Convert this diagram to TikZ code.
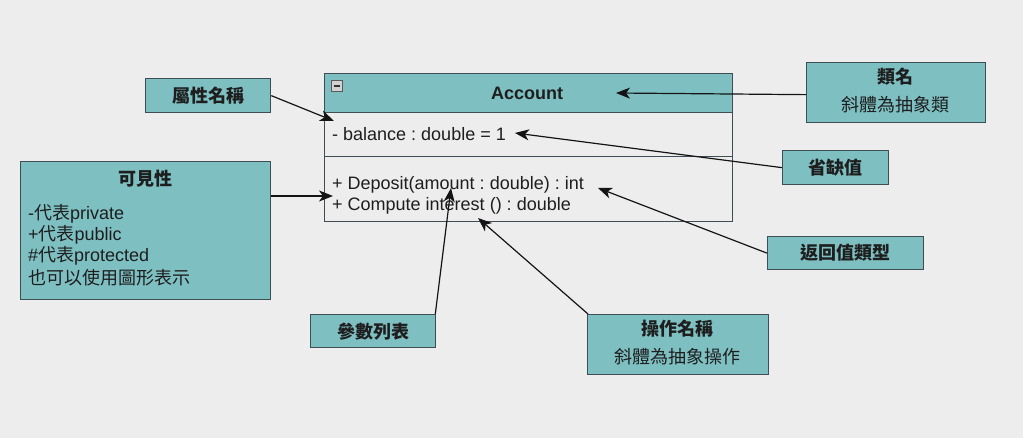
\documentclass[tikz,border=0pt]{standalone}
\usepackage{fontspec}
\setmainfont{Liberation Sans}
\newfontfamily\cjk{Noto Sans CJK TC}
\usetikzlibrary{arrows.meta}
\definecolor{bgc}{HTML}{EDEDED}
\definecolor{tealfill}{HTML}{7EBFC2}
\definecolor{edgec}{HTML}{3F4E55}
\definecolor{txtc}{HTML}{1E1E1E}
\frenchspacing
\begin{document}
\begin{tikzpicture}[x=1pt,y=-1pt,
  font=\fontsize{18}{21}\selectfont, text=txtc,
  box/.style={draw=edgec, fill=tealfill, line width=1.3pt, inner sep=0pt, anchor=north west},
  lbl/.style={inner sep=0pt},
  arr/.style={-{Stealth[length=14pt,width=11pt,inset=4pt]}, line width=1.2pt, draw=black!92}]
\useasboundingbox (0,0) rectangle (1023,438);
\fill[bgc] (0,0) rectangle (1023,438);

% class box
\node[box, minimum width=408pt, minimum height=39pt] (hdr) at (324,73) {};
\node[box, fill=bgc, minimum width=408pt, minimum height=44pt] (attr) at (324,112) {};
\node[box, fill=bgc, minimum width=408pt, minimum height=65pt] (ops) at (324,156) {};
\node[lbl, font=\fontsize{18}{21}\selectfont\bfseries] (acc) at (527,93) {Account};
\node[draw=gray!70!black, fill=gray!35, line width=0.6pt, minimum width=11pt, minimum height=11pt, inner sep=0pt] (mini) at (337,86) {};
\draw[line width=1.4pt, black!80] ([xshift=2.5pt]mini.west) -- ([xshift=-2.5pt]mini.east);
\node[lbl, anchor=west] (bal) at (332,134) {- balance : double = 1};
\node[lbl, anchor=west] (dep) at (332,185) {+ Deposit(amount : double) : int};
\node[lbl, anchor=west] (cmp) at (332,206) {+ Compute interest () : double};

% annotation boxes
\node[box, minimum width=125pt, minimum height=34pt] (an) at (145,78) {};
\node[lbl, font=\fontsize{18}{21}\cjk\bfseries] at (an.center) {屬性名稱};

\node[box, minimum width=250pt, minimum height=138pt] (vis) at (20,161) {};
\node[lbl, font=\fontsize{18}{21}\cjk\bfseries] (vist) at (145,179) {可見性};
\node[lbl, anchor=west] (v1) at (28,214) {-{\cjk 代表}private};
\node[lbl, anchor=west] (v2) at (28,235) {+{\cjk 代表}public};
\node[lbl, anchor=west] (v3) at (28,256) {\#{\cjk 代表}protected};
\node[lbl, anchor=west] (v4) at (28,278) {\cjk 也可以使用圖形表示};

\node[box, minimum width=179pt, minimum height=60pt] (cn) at (806,62) {};
\node[lbl, font=\fontsize{18}{21}\cjk\bfseries] (cnt) at (895.5,77) {類名};
\node[lbl, font=\fontsize{18}{21}\cjk] (cns) at (895.5,105) {斜體為抽象類};

\node[box, minimum width=106pt, minimum height=34pt] (dv) at (782,150) {};
\node[lbl, font=\fontsize{18}{21}\cjk\bfseries] at (dv.center) {省缺值};

\node[box, minimum width=156pt, minimum height=33pt] (rt) at (767,236) {};
\node[lbl, font=\fontsize{18}{21}\cjk\bfseries] at (rt.center) {返回值類型};

\node[box, minimum width=125pt, minimum height=33pt] (pl) at (310,314) {};
\node[lbl, font=\fontsize{18}{21}\cjk\bfseries] at (pl.center) {參數列表};

\node[box, minimum width=181pt, minimum height=60pt] (op) at (587,314) {};
\node[lbl, font=\fontsize{18}{21}\cjk\bfseries] (opt) at (677.5,329) {操作名稱};
\node[lbl, font=\fontsize{18}{21}\cjk] (ops2) at (677.5,357) {斜體為抽象操作};

% arrow tips
\coordinate (tAn) at (334,121);
\coordinate (tVis) at (333,196);
\coordinate (tCn) at (616,93);
\coordinate (tDv) at (515,133);
\coordinate (tRt) at (598,188);
\coordinate (tPl) at (451,188);
\coordinate (tOp) at (478,218);

\draw[arr] (an.east) -- (tAn);
\draw[arr] ([yshift=-35pt]vis.north east) -- (tVis);
\draw[arr] ([yshift=-2pt]cn.west) -- (tCn);
\draw[arr] (dv.west) -- (tDv);
\draw[arr] (rt.west) -- (tRt);
\draw[arr] ([xshift=-1pt]pl.north east) -- (tPl);
\draw[arr] ([xshift=1pt]op.north west) -- (tOp);
\end{tikzpicture}
\end{document}
